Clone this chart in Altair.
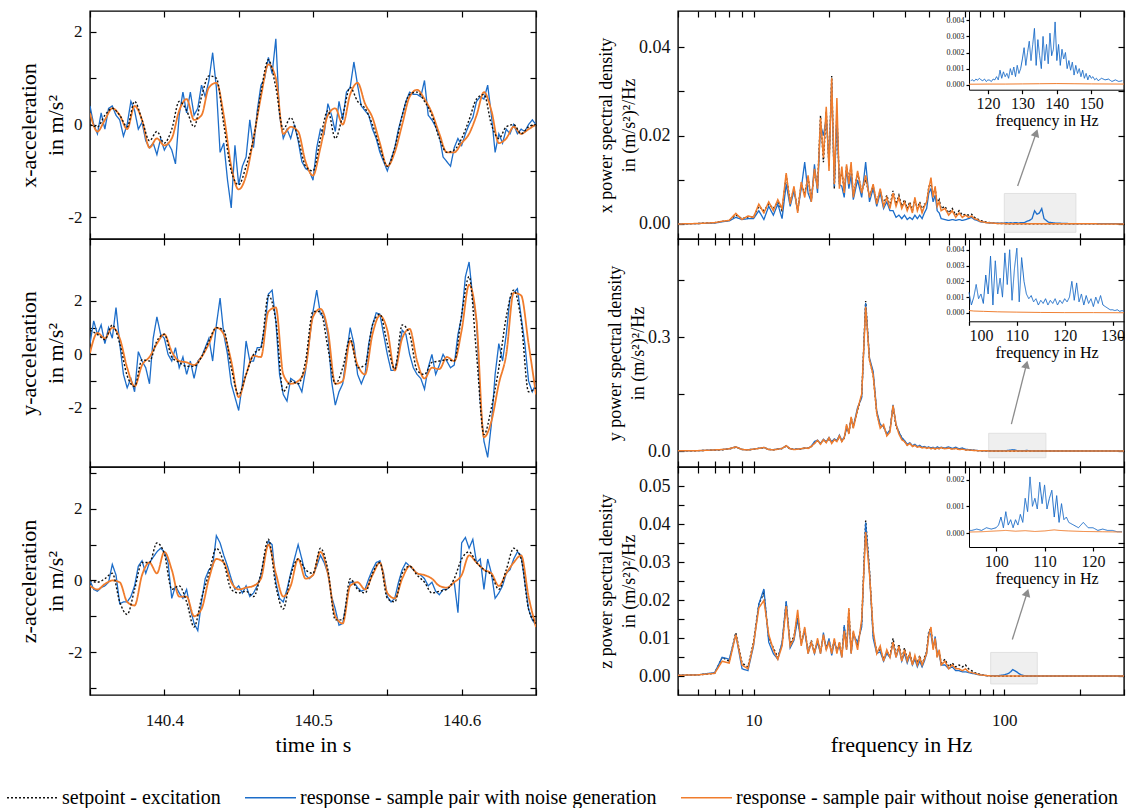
import math
import altair as alt
import pandas as pd

FONT = "Liberation Serif"
S_SET = "setpoint - excitation"
S_NOI = "response - sample pair with noise generation"
S_NON = "response - sample pair without noise generation"
SERIES = [S_SET, S_NOI, S_NON]
COLORS = ["#111111", "#1c6dc9", "#f07c2c"]
DASHES = [[2, 2], [1, 0], [1, 0]]

# ---------------- time domain (t starts at 140.35 s) ----------------
T_START = 140.35
STEP_NOISE = 0.0025
STEP_SMOOTH = 0.005

X_SET = [0.0, -0.05, 0.2, 0.35, 0.2, -0.05, 0.5, 0.1, -0.35, -0.15,
         -0.4, -0.1, 0.5, 0.3, -0.05, 0.6, 1.05, 1.0, 0.0, -1.0,
         -1.3, -0.9, -0.3, 0.7, 1.4, 0.8, -0.1, 0.15, -0.3, -0.9,
         -1.0, -0.3, 0.3, -0.3, 0.2, 0.8, 0.5, 0.35, 0.0, -0.5,
         -0.9, -0.5, 0.2, 0.65, 0.7, 0.5, 0.2, -0.3, -0.6, -0.55,
         -0.3, 0.1, 0.55, 0.65, 0.0, -0.3, -0.05, 0.0, -0.2, -0.05,
         0.0]
X_NON = [0.25, -0.15, 0.1, 0.35, 0.2, -0.1, 0.4, 0.1, -0.5, -0.3,
         -0.45, -0.3, 0.3, 0.55, 0.1, 0.2, 0.8, 0.9, 0.2, -0.9,
         -1.4, -1.1, -0.3, 0.6, 1.3, 1.0, -0.2, -0.05, -0.15, -0.8,
         -1.1, -0.5, 0.2, 0.35, 0.0, 0.65, 0.9, 0.45, 0.15, -0.4,
         -0.9, -0.6, 0.0, 0.6, 0.75, 0.55, 0.25, -0.2, -0.6, -0.6,
         -0.4, -0.2, 0.2, 0.7, 0.3, -0.4, -0.3, -0.05, -0.2, -0.1,
         0.0]
X_NOI = [0.4, 0.0, -0.2, 0.25, -0.1, 0.35, 0.4, 0.2, 0.1, -0.25,
         0.0, 0.5, 0.3, -0.1, 0.05, -0.35, -0.5, -0.4, -0.65, -0.3,
         -0.55, -0.4, -0.55, -0.85, 0.2, 0.7, 0.25, 0.7, 0.2, 0.35,
         0.85, 0.6, 0.95, 1.55, 0.8, -0.6, -0.4, -1.2, -1.8, -0.45,
         -1.3, -0.9, -0.7, 0.1, -0.5, 0.3, 0.85, 1.0, 1.45, 1.1,
         1.85, 0.2, -0.3, -0.1, -0.3, 0.0, -0.35, -0.8, -0.95, -1.0,
         -1.2, -0.5, -0.1, -0.2, 0.45, 0.2, -0.15, 0.5, 0.1, 0.7,
         0.8, 1.35, 0.85, 0.4, 0.3, 0.2, -0.1, -0.3, -0.6, -0.8,
         -1.0, -0.75, -0.5, -0.1, 0.2, 0.5, 0.7, 0.65, 0.65, 0.6,
         0.95, 0.2, 0.1, -0.05, -0.25, -0.7, -0.8, -0.9, -0.5, -0.3,
         -0.45, -0.2, 0.0, 0.15, 0.5, 0.6, 0.55, 0.85, 0.2, -0.6,
         -0.2, -0.4, -0.1, -0.2, 0.0, -0.2, -0.1, -0.15, 0.0, 0.1,
         0.0]

Y_SET = [0.9, 0.75, 0.55, 1.1, 0.4, -0.8, -1.2, -0.2, -0.25, 0.5,
         0.75, -0.1, -0.3, -0.45, -0.45, -0.1, 0.5, 1.0, 0.9, -0.5,
         -1.5, -0.75, 0.0, 0.25, 2.2, 1.25, -1.4, -1.0, -1.1, -0.25,
         1.6, 1.6, 0.25, -1.1, -0.5, 0.6, -0.5, -0.4, 1.1, 1.5,
         0.4, -0.55, 1.1, 0.75, -0.6, -0.75, -0.3, -0.25, -0.2, -0.25,
         1.5, 2.9, 0.0, -3.0, -2.0, -0.5, 1.4, 2.4, 1.25, -1.4,
         -1.25]
Y_NON = [0.05, 0.8, 0.6, 1.0, 0.6, -0.5, -1.2, -0.4, -0.1, 0.4,
         0.75, 0.1, -0.25, -0.3, -0.4, -0.1, 0.4, 1.0, 0.75, -0.25,
         -1.6, -0.75, -0.05, -0.1, 1.6, 1.75, -0.75, -1.1, -1.0, -0.5,
         1.4, 1.7, 0.9, -1.1, -1.0, 0.5, -0.4, -0.75, 0.75, 1.45,
         0.9, -0.6, 0.6, 0.95, -0.25, -0.9, -0.5, -0.55, -0.1, -0.25,
         0.9, 2.6, 1.25, -3.1, -2.5, -1.1, 0.0, 2.3, 2.2, 0.4,
         -1.5]
Y_NOI = [0.4, 1.25, 0.75, 1.1, 0.4, 1.0, 0.6, 1.75, 0.4, -0.75,
         -1.25, -0.9, -1.4, 0.1, -0.25, -0.5, -1.1, 0.6, 1.4, 0.75,
         0.6, 0.0, -0.25, 0.25, -0.5, -0.1, -0.75, -0.25, -0.9, -0.25,
         -0.1, 0.25, 0.6, -0.25, 1.1, 2.1, 0.75, 0.0, -1.1, -1.6,
         -2.1, -1.1, 0.5, -0.25, -0.25, 0.25, 0.25, 1.0, 2.25, 2.4,
         1.25, -0.75, -1.5, -1.75, -0.9, -1.0, -1.1, -1.4, -0.6, 0.5,
         1.6, 2.4, 1.5, 1.4, 0.75, -1.0, -1.9, -1.4, -1.1, 0.0,
         1.0, 0.4, -0.75, -1.1, -0.75, 0.4, 1.1, 1.55, 1.5, 0.75,
         0.0, -0.6, -0.6, 0.0, 0.9, 0.75, 0.0, -0.5, -0.75, -0.9,
         -1.3, -0.5, 0.0, -0.75, -0.4, 0.0, -0.25, -0.5, -0.4, 0.75,
         1.4, 2.9, 3.45, 2.1, 1.25, -1.75, -3.25, -3.85, -2.6, -0.75,
         0.4, -0.25, 0.75, 2.1, 2.3, 2.45, 1.4, 0.4, -1.0, -1.4,
         -1.1]

Z_SET = [0.0, -0.05, 0.05, 0.2, -0.6, -0.95, -0.25, 0.5, 0.5, 1.05,
         0.75, -0.25, -0.15, -0.6, -1.3, -0.5, 0.2, 0.9, 0.5, -0.25,
         -0.35, -0.3, -0.45, 0.2, 1.15, -0.15, -0.8, 0.15, 0.6, 0.3,
         0.2, 0.9, 0.3, -1.1, -1.1, 0.05, -0.25, -0.35, 0.2, 0.5,
         -0.5, -0.6, 0.2, 0.4, 0.15, -0.05, -0.35, -0.3, -0.25, 0.05,
         0.6, 0.8, 0.5, 0.3, 0.15, -0.25, 0.3, 0.9, 0.6, -0.8,
         -1.2]
Z_NON = [-0.15, -0.25, -0.1, 0.0, -0.05, -0.6, -0.7, 0.15, 0.5, 0.2,
         0.8, 0.3, -0.45, -0.45, -1.0, -0.8, 0.05, 0.6, 0.5, -0.05,
         -0.25, -0.2, -0.15, 0.05, 1.0, 0.2, -0.45, -0.15, 0.6, 0.05,
         0.15, 0.8, 0.2, -1.0, -1.2, -0.15, -0.05, -0.25, 0.15, 0.5,
         -0.35, -0.5, 0.05, 0.4, 0.2, 0.15, 0.05, -0.15, -0.2, -0.05,
         0.15, 0.7, 0.5, 0.3, 0.2, -0.15, 0.2, 0.5, 0.7, -0.45,
         -1.3]
Z_NOI = [0.0, -0.25, -0.3, -0.2, -0.15, -0.05, 0.45, 0.15, -0.65, -0.6,
         -0.6, -0.45, -0.15, 0.4, 0.55, 0.2, 0.5, 0.65, 0.8, 0.9,
         0.8, 0.5, -0.5, -0.15, -0.35, -0.5, -0.25, -0.8, -1.2, -1.4,
         -0.6, 0.05, 0.3, 0.4, 1.25, 1.05, 0.7, 0.4, 0.05, -0.25,
         -0.15, -0.35, -0.15, -0.45, -0.35, -0.15, 0.15, 0.7, 1.1, 1.0,
         -0.05, -0.5, -0.6, -0.25, 0.2, 0.6, 1.0, 0.6, 0.15, 0.05,
         0.15, 0.4, 0.7, 0.5, 0.2, -0.45, -0.8, -1.25, -1.2, -0.6,
         -0.05, -0.05, -0.2, -0.3, -0.25, 0.05, 0.3, 0.5, 0.55, 0.2,
         -0.45, -0.6, -0.5, -0.05, 0.3, 0.5, 0.4, 0.3, 0.2, 0.15,
         0.05, -0.15, -0.05, -0.3, -0.4, -0.25, -0.25, -0.15, -0.05, -0.9,
         1.05, 1.2, 0.9, 1.15, 0.5, 0.6, -0.25, 0.6, 0.2, -0.5,
         -0.35, -0.15, 0.2, 0.3, 0.6, 0.8, 0.7, -0.05, -0.8, -1.1,
         -1.25]

# ---------------- power spectral densities ----------------
PSD_F = [5, 6, 7,
         7.5, 8, 8.5, 9, 9.5, 10, 10.5, 11, 11.5, 12,
         12.5, 13, 13.5, 14, 14.5, 15, 15.5, 16, 16.5, 17,
         17.5, 18, 18.5, 19, 19.5, 20, 20.5, 21, 21.5, 22,
         22.5, 23, 23.5, 24, 24.5, 25,
         26, 27, 28, 29, 30, 31, 32, 33, 34, 35,
         36, 37, 38, 39, 40, 41, 42, 43, 44, 45,
         46, 47, 48, 49, 50, 51, 52, 53, 54, 55,
         56,
         58, 60, 62, 64, 66, 68, 70, 72, 74, 76, 78, 80,
         85, 90, 95, 100,
         102, 104, 106, 108, 110, 112, 114, 116, 118, 120,
         123, 126, 129, 132, 135, 138, 141, 144, 147, 150,
         160, 180, 200, 250, 300]

PX_SET = [0.0, 0.0001, 0.0003,
          0.0006, 0.0008, 0.0020, 0.0012, 0.0016, 0.0016, 0.0040, 0.0030, 0.0045, 0.0035,
          0.0050, 0.0030, 0.0110, 0.0050, 0.0080, 0.0030, 0.0090, 0.0070, 0.0105, 0.0055,
          0.0120, 0.0085, 0.0245, 0.0140, 0.0255, 0.0130, 0.0335, 0.0080, 0.0250, 0.0090,
          0.0120, 0.0075, 0.0130, 0.0100, 0.0130, 0.0065,
          0.0115, 0.0075, 0.0100, 0.0065, 0.0085, 0.0050, 0.0075, 0.0045, 0.0065, 0.0040,
          0.0075, 0.0045, 0.0065, 0.0040, 0.0055, 0.0035, 0.0050, 0.0030, 0.0055, 0.0035,
          0.0050, 0.0030, 0.0045, 0.0045, 0.0085, 0.0090, 0.0070, 0.0080, 0.0045, 0.0055,
          0.0035,
          0.0040, 0.0025, 0.0035, 0.0020, 0.0030, 0.0020, 0.0022, 0.0020, 0.0022, 0.0015, 0.0012, 0.0008,
          0.0004, 0.0002, 0.0001, 0.0001,
          0.00005, 0.00005, 0.00005, 0.00005, 0.00005, 0.00005, 0.00005, 0.00005, 0.00005, 0.00005,
          0.00005, 0.00005, 0.00005, 0.00005, 0.00005, 0.00005, 0.00005, 0.00005, 0.00005, 0.00005,
          0.00005, 0.00004, 0.00003, 0.00002, 0.00002]
PX_NON = [0.0, 0.0001, 0.0003,
          0.0006, 0.0008, 0.0024, 0.0010, 0.0018, 0.0015, 0.0045, 0.0025, 0.0050, 0.0030,
          0.0055, 0.0035, 0.0115, 0.0045, 0.0085, 0.0025, 0.0095, 0.0060, 0.0110, 0.0050,
          0.0125, 0.0080, 0.0240, 0.0150, 0.0265, 0.0120, 0.0330, 0.0090, 0.0285, 0.0080,
          0.0130, 0.0070, 0.0135, 0.0090, 0.0140, 0.0060,
          0.0120, 0.0070, 0.0110, 0.0060, 0.0090, 0.0045, 0.0080, 0.0040, 0.0060, 0.0035,
          0.0070, 0.0040, 0.0060, 0.0035, 0.0050, 0.0030, 0.0045, 0.0025, 0.0060, 0.0030,
          0.0045, 0.0025, 0.0040, 0.0050, 0.0080, 0.0105, 0.0060, 0.0085, 0.0040, 0.0050,
          0.0030,
          0.0035, 0.0020, 0.0030, 0.0015, 0.0025, 0.0015, 0.0020, 0.0015, 0.0018, 0.0012, 0.0010, 0.0006,
          0.0003, 0.0002, 0.0001, 0.0001,
          0.00005, 0.00005, 0.00005, 0.00005, 0.00005, 0.00005, 0.00005, 0.00005, 0.00005, 0.00005,
          0.00005, 0.00005, 0.00005, 0.00005, 0.00005, 0.00005, 0.00005, 0.00005, 0.00005, 0.00005,
          0.00005, 0.00004, 0.00003, 0.00002, 0.00002]
PX_NOI = [0.0, 0.0001, 0.0002,
          0.0005, 0.0007, 0.0015, 0.0010, 0.0012, 0.0012, 0.0030, 0.0010, 0.0040, 0.0020,
          0.0045, 0.0012, 0.0090, 0.0040, 0.0075, 0.0030, 0.0080, 0.0140, 0.0070, 0.0050,
          0.0135, 0.0070, 0.0225, 0.0200, 0.0240, 0.0140, 0.0320, 0.0085, 0.0240, 0.0090,
          0.0085, 0.0060, 0.0125, 0.0080, 0.0110, 0.0055,
          0.0100, 0.0060, 0.0140, 0.0050, 0.0080, 0.0040, 0.0070, 0.0035, 0.0050, 0.0030,
          0.0030, 0.0015, 0.0020, 0.0012, 0.0020, 0.0010, 0.0015, 0.0010, 0.0020, 0.0012,
          0.0020, 0.0012, 0.0025, 0.0035, 0.0070, 0.0080, 0.0050, 0.0065, 0.0030, 0.0025,
          0.0012,
          0.0010, 0.0008, 0.0010, 0.0008, 0.0010, 0.0008, 0.0010, 0.0012, 0.0015, 0.0010, 0.0008, 0.0005,
          0.0003, 0.0002, 0.0002, 0.0002,
          0.0003, 0.0002, 0.0003, 0.0002, 0.0003, 0.0003, 0.0002, 0.0003, 0.0003, 0.0003,
          0.0006, 0.0008, 0.0012, 0.0030, 0.0022, 0.0025, 0.0035, 0.0012, 0.0008, 0.0004,
          0.0002, 0.0001, 0.0001, 0.0001, 0.0001]

PY_SET = [0.0005, 0.0010, 0.0025,
          0.0035, 0.0055, 0.0100, 0.0045, 0.0030, 0.0045, 0.0070, 0.0090, 0.0045, 0.0035,
          0.0050, 0.0065, 0.0130, 0.0055, 0.0045, 0.0050, 0.0055, 0.0075, 0.0075, 0.0120,
          0.0210, 0.0270, 0.0190, 0.0290, 0.0230, 0.0330, 0.0220, 0.0310, 0.0260, 0.0380,
          0.0260, 0.0340, 0.0650, 0.0480, 0.0880, 0.0620,
          0.1080, 0.1450, 0.3950, 0.2400, 0.2000, 0.1000, 0.0650, 0.0650, 0.0420, 0.0550,
          0.1180, 0.0650, 0.0500, 0.0350, 0.0260, 0.0160, 0.0210, 0.0130, 0.0160, 0.0110,
          0.0130, 0.0090, 0.0110, 0.0080, 0.0095, 0.0065, 0.0085, 0.0060, 0.0080, 0.0065,
          0.0085,
          0.0065, 0.0085, 0.0055, 0.0075, 0.0045, 0.0055, 0.0035, 0.0030, 0.0025, 0.0018, 0.0012, 0.0010,
          0.0005, 0.0003, 0.0002, 0.0002,
          0.0001, 0.0001, 0.0001, 0.0001, 0.0001, 0.0001, 0.0001, 0.0001, 0.0001, 0.0001,
          0.0001, 0.0001, 0.0001, 0.0001, 0.0001, 0.0001, 0.0001, 0.0001, 0.0001, 0.0001,
          0.0001, 0.0001, 0.0001, 0.0001, 0.0001]
PY_NON = [0.0005, 0.0010, 0.0030,
          0.0040, 0.0060, 0.0110, 0.0040, 0.0030, 0.0050, 0.0070, 0.0095, 0.0040, 0.0030,
          0.0050, 0.0070, 0.0140, 0.0060, 0.0040, 0.0050, 0.0060, 0.0080, 0.0070, 0.0120,
          0.0200, 0.0280, 0.0180, 0.0300, 0.0220, 0.0350, 0.0200, 0.0300, 0.0250, 0.0400,
          0.0250, 0.0350, 0.0700, 0.0450, 0.0900, 0.0600,
          0.1100, 0.1500, 0.3800, 0.2400, 0.2000, 0.1000, 0.0600, 0.0700, 0.0400, 0.0500,
          0.1200, 0.0700, 0.0450, 0.0300, 0.0250, 0.0150, 0.0200, 0.0120, 0.0150, 0.0100,
          0.0120, 0.0080, 0.0100, 0.0070, 0.0090, 0.0060, 0.0080, 0.0050, 0.0080, 0.0060,
          0.0090,
          0.0060, 0.0080, 0.0050, 0.0070, 0.0040, 0.0050, 0.0030, 0.0030, 0.0020, 0.0015, 0.0010, 0.0008,
          0.0005, 0.0003, 0.0002, 0.0002,
          0.0001, 0.0001, 0.0001, 0.0001, 0.0001, 0.0001, 0.0001, 0.0001, 0.0001, 0.0001,
          0.0001, 0.0001, 0.0001, 0.0001, 0.0001, 0.0001, 0.0001, 0.0001, 0.0001, 0.0001,
          0.0001, 0.0001, 0.0001, 0.0001, 0.0001]
PY_NOI = [0.0005, 0.0010, 0.0030,
          0.0040, 0.0060, 0.0110, 0.0040, 0.0035, 0.0050, 0.0075, 0.0095, 0.0040, 0.0035,
          0.0055, 0.0070, 0.0140, 0.0060, 0.0045, 0.0055, 0.0060, 0.0080, 0.0070, 0.0130,
          0.0250, 0.0290, 0.0200, 0.0310, 0.0250, 0.0360, 0.0240, 0.0320, 0.0280, 0.0420,
          0.0280, 0.0360, 0.0600, 0.0500, 0.0850, 0.0650,
          0.1150, 0.1400, 0.3900, 0.2450, 0.2100, 0.1050, 0.0700, 0.0650, 0.0450, 0.0550,
          0.1220, 0.0700, 0.0500, 0.0350, 0.0280, 0.0180, 0.0220, 0.0140, 0.0180, 0.0120,
          0.0150, 0.0100, 0.0120, 0.0090, 0.0110, 0.0080, 0.0100, 0.0070, 0.0110, 0.0080,
          0.0100,
          0.0080, 0.0110, 0.0070, 0.0100, 0.0060, 0.0080, 0.0050, 0.0040, 0.0030, 0.0020, 0.0015, 0.0010,
          0.0006, 0.0004, 0.0003, 0.0008,
          0.0012, 0.0020, 0.0025, 0.0035, 0.0030, 0.0015, 0.0008, 0.0007, 0.0007, 0.0008,
          0.0018, 0.0008, 0.0004, 0.0002, 0.0002, 0.0001, 0.0001, 0.0001, 0.0001, 0.0001,
          0.0001, 0.0001, 0.0001, 0.0001, 0.0001]

PZ_SET = [0.0003, 0.0004, 0.0008,
          0.0050, 0.0040, 0.0115, 0.0035, 0.0025, 0.0090, 0.0190, 0.0220, 0.0100, 0.0075,
          0.0050, 0.0085, 0.0195, 0.0085, 0.0105, 0.0160, 0.0090, 0.0125, 0.0065, 0.0095,
          0.0065, 0.0095, 0.0065, 0.0105, 0.0075, 0.0095, 0.0065, 0.0095, 0.0065, 0.0090,
          0.0055, 0.0130, 0.0075, 0.0175, 0.0065, 0.0115,
          0.0080, 0.0140, 0.0410, 0.0280, 0.0110, 0.0065, 0.0070, 0.0045, 0.0065, 0.0055,
          0.0100, 0.0055, 0.0085, 0.0045, 0.0075, 0.0045, 0.0060, 0.0035, 0.0050, 0.0035,
          0.0055, 0.0030, 0.0050, 0.0065, 0.0120, 0.0125, 0.0080, 0.0095, 0.0055, 0.0065,
          0.0035,
          0.0045, 0.0025, 0.0035, 0.0025, 0.0030, 0.0025, 0.0030, 0.0020, 0.0015, 0.0010, 0.0008, 0.0005,
          0.0002, 0.0001, 0.0001, 0.0001,
          0.00008, 0.00008, 0.00008, 0.00008, 0.00008, 0.00008, 0.00008, 0.00008, 0.00008, 0.00008,
          0.00008, 0.00008, 0.00008, 0.00008, 0.00008, 0.00008, 0.00008, 0.00008, 0.00008, 0.00008,
          0.00008, 0.00008, 0.00008, 0.00008, 0.00008]
PZ_NON = [0.0003, 0.0004, 0.0008,
          0.0040, 0.0035, 0.0110, 0.0030, 0.0020, 0.0085, 0.0180, 0.0200, 0.0110, 0.0070,
          0.0045, 0.0080, 0.0185, 0.0080, 0.0100, 0.0175, 0.0080, 0.0130, 0.0060, 0.0090,
          0.0060, 0.0100, 0.0060, 0.0110, 0.0070, 0.0090, 0.0060, 0.0100, 0.0060, 0.0090,
          0.0050, 0.0120, 0.0070, 0.0180, 0.0060, 0.0120,
          0.0070, 0.0150, 0.0380, 0.0270, 0.0120, 0.0060, 0.0080, 0.0040, 0.0070, 0.0050,
          0.0090, 0.0050, 0.0080, 0.0040, 0.0070, 0.0040, 0.0060, 0.0030, 0.0055, 0.0030,
          0.0050, 0.0030, 0.0045, 0.0060, 0.0110, 0.0130, 0.0070, 0.0100, 0.0050, 0.0070,
          0.0030,
          0.0040, 0.0020, 0.0030, 0.0020, 0.0020, 0.0015, 0.0020, 0.0012, 0.0010, 0.0008, 0.0006, 0.0004,
          0.0002, 0.0001, 0.0001, 0.0001,
          0.00008, 0.00008, 0.00008, 0.00008, 0.00008, 0.00008, 0.00008, 0.00008, 0.00008, 0.00008,
          0.00008, 0.00008, 0.00008, 0.00008, 0.00008, 0.00008, 0.00008, 0.00008, 0.00008, 0.00008,
          0.00008, 0.00008, 0.00008, 0.00008, 0.00008]
PZ_NOI = [0.0003, 0.0004, 0.0010,
          0.0050, 0.0045, 0.0110, 0.0020, 0.0015, 0.0080, 0.0190, 0.0230, 0.0090, 0.0060,
          0.0045, 0.0090, 0.0198, 0.0075, 0.0095, 0.0150, 0.0085, 0.0120, 0.0060, 0.0090,
          0.0060, 0.0090, 0.0060, 0.0115, 0.0070, 0.0100, 0.0055, 0.0090, 0.0070, 0.0080,
          0.0050, 0.0135, 0.0070, 0.0160, 0.0060, 0.0110,
          0.0090, 0.0130, 0.0405, 0.0275, 0.0100, 0.0060, 0.0065, 0.0040, 0.0060, 0.0050,
          0.0090, 0.0050, 0.0075, 0.0040, 0.0060, 0.0035, 0.0055, 0.0030, 0.0045, 0.0025,
          0.0040, 0.0025, 0.0040, 0.0060, 0.0115, 0.0110, 0.0075, 0.0105, 0.0060, 0.0060,
          0.0030,
          0.0030, 0.0020, 0.0025, 0.0015, 0.0015, 0.0012, 0.0012, 0.0010, 0.0008, 0.0007, 0.0005, 0.0004,
          0.0002, 0.0002, 0.0002, 0.0004,
          0.0006, 0.0008, 0.0012, 0.0018, 0.0015, 0.0012, 0.0008, 0.0005, 0.0003, 0.0002,
          0.0001, 0.0001, 0.0001, 0.0001, 0.0001, 0.0001, 0.0001, 0.0001, 0.0001, 0.0001,
          0.0001, 0.0001, 0.0001, 0.0001, 0.0001]

# ---------------- insets ----------------
I1_F = [115, 115.5, 116, 116.5, 117, 117.5, 118, 118.5, 119, 119.5,
        120, 120.5, 121, 121.5, 122, 122.5, 123, 123.5, 124, 124.5,
        125, 125.5, 126, 126.5, 127, 127.5, 128, 128.5, 129, 129.5,
        130, 130.5, 131, 131.5, 132, 132.5, 133, 133.5, 134, 134.5,
        135, 135.5, 136, 136.5, 137, 137.5, 138, 138.5, 139, 139.5,
        140, 140.5, 141, 141.5, 142, 142.5, 143, 143.5, 144, 144.5,
        145, 145.5, 146, 146.5, 147, 147.5, 148, 148.5, 149, 149.5,
        150, 150.5, 151, 151.5, 152, 153, 154, 155, 156, 157, 158, 159]
I1_NOI = [0.00025, 0.0003, 0.00022, 0.00035, 0.00028, 0.0004, 0.0003, 0.00025, 0.00035, 0.0002,
          0.0003, 0.00028, 0.0002, 0.00035, 0.0003, 0.0005, 0.0003, 0.0009, 0.0004, 0.0008,
          0.0005, 0.0007, 0.0004, 0.001, 0.0006, 0.0011, 0.0005, 0.0012, 0.0007, 0.001,
          0.0016, 0.0023, 0.0012, 0.002, 0.0027, 0.0015, 0.0025, 0.0035, 0.0012, 0.0028,
          0.0018, 0.001, 0.003, 0.0015, 0.0025, 0.0013, 0.0032, 0.0018, 0.0022, 0.0039,
          0.0015, 0.0025, 0.0012, 0.0022, 0.0016, 0.002, 0.001, 0.0015, 0.0009, 0.0014,
          0.0006, 0.0012, 0.0007, 0.001, 0.0005, 0.0009, 0.0004, 0.0007, 0.0003, 0.0006,
          0.0004, 0.0005, 0.0003, 0.0004, 0.00025, 0.0004, 0.0003, 0.00035, 0.0002, 0.0003, 0.0002, 0.00025]
I1_NON_F = [114.5, 120, 125, 130, 135, 140, 145, 150, 159.5]
I1_NON = [0.00003, 0.00004, 0.00004, 0.00005, 0.00006, 0.00007, 0.00006, 0.00005, 0.00004]

I2_F = [100, 100.5, 101, 101.5, 102, 102.5, 103, 103.5, 104, 104.5,
        105, 105.5, 106, 106.5, 107, 107.5, 108, 108.5, 109, 109.5,
        110, 110.5, 111, 111.5, 112, 112.5, 113, 113.5, 114, 114.5,
        115, 115.5, 116, 116.5, 117, 117.5, 118, 118.5, 119, 119.5,
        120, 120.5, 121, 121.5, 122, 122.5, 123, 123.5, 124, 124.5,
        125, 125.5, 126, 126.5, 127, 127.5, 128, 128.5, 129, 129.5,
        130, 130.5, 131, 131.5, 132, 132.4]
I2_NOI = [0.0013, 0.0005, 0.0010, 0.0018, 0.0009, 0.0012, 0.0006, 0.0024, 0.0012, 0.0036,
          0.0005, 0.0033, 0.0012, 0.0022, 0.0010, 0.0038, 0.0018, 0.0040, 0.0008, 0.0028,
          0.0041, 0.0007, 0.0035, 0.0020, 0.0012, 0.0009, 0.0011, 0.0007, 0.0009, 0.0005,
          0.0008, 0.0006, 0.0009, 0.0005, 0.0008, 0.0006, 0.0009, 0.0005, 0.0008, 0.0006,
          0.0009, 0.0007, 0.0010, 0.0020, 0.0008, 0.0019, 0.0007, 0.0012, 0.0005, 0.0011,
          0.0006, 0.0009, 0.0004, 0.0010, 0.0006, 0.0011, 0.0005, 0.0004, 0.0003, 0.0002,
          0.0002, 0.00015, 0.0002, 0.0001, 0.00015, 0.0001]
I2_NON_F = [100, 101, 103, 106, 110, 115, 120, 126, 132.4]
I2_NON = [0.00015, 0.00012, 0.0001, 0.00007, 0.00005, 0.00003, 0.00002, 0.00002, 0.00001]

I3_F = [94.5, 95, 96, 97, 98, 99,
        100, 100.5, 101, 101.5, 102, 102.5, 103, 103.5, 104, 104.5,
        105, 105.5, 106, 106.5, 107, 107.5, 108, 108.5, 109, 109.5,
        110, 110.5, 111, 111.5, 112, 112.5, 113, 113.5, 114, 114.5,
        115, 116, 117, 118, 119, 120, 121, 122, 123, 124, 125, 126]
I3_NOI = [0.0001, 0.0001, 0.00015, 0.0001, 0.0002, 0.00015,
          0.0002, 0.0003, 0.0006, 0.0002, 0.0008, 0.0003, 0.0005, 0.0002, 0.0005, 0.0003,
          0.0007, 0.0004, 0.0013, 0.0008, 0.0021, 0.0010, 0.0013, 0.0009, 0.0019, 0.0011,
          0.0018, 0.0009, 0.0013, 0.0016, 0.0006, 0.0014, 0.0004, 0.0011, 0.0005, 0.0006,
          0.0004, 0.0003, 0.0002, 0.0004, 0.0002, 0.0002, 0.0001, 0.00015, 0.0001, 0.0001, 0.00005, 0.00005]
I3_NON_F = [94.5, 97, 100, 102, 104, 106, 108, 110, 112, 113, 115, 118, 122, 126]
I3_NON = [0.00004, 0.00005, 0.00008, 0.0001, 0.00007, 0.00009, 0.00006, 0.00008, 0.00012, 0.0001,
          0.00008, 0.00006, 0.00005, 0.00004]

# ---------------- layout constants ----------------
W, H = 446, 228
T_DOMAIN = [140.35, 140.65]
F_DOMAIN = [5, 300]
TICK = 6
T_TICKS = [140.35, 140.4, 140.45, 140.5, 140.55, 140.6, 140.65]
F_TICKS = [5, 6, 7, 8, 9, 10, 20, 30, 40, 50, 60, 70, 80, 90, 100, 200, 300]

legend = alt.Legend(title=None, orient="none", legendX=-84, legendY=760, direction="horizontal",
                    symbolType="stroke", symbolSize=2600, symbolStrokeWidth=1.6,
                    labelFont=FONT, labelFontSize=20, labelLimit=0, columnPadding=20,
                    labelOffset=3)
COLOR = alt.Color("series:N", scale=alt.Scale(domain=SERIES, range=COLORS), legend=legend)
DASH = alt.StrokeDash("series:N", scale=alt.Scale(domain=SERIES, range=DASHES), legend=legend)


def lab_expr(pairs):
    expr = "''"
    for v, lab in pairs:
        expr = f"abs(datum.value - ({v})) < 1e-9 ? '{lab}' : ({expr})"
    return expr


def frame(xs, vs, name, xcol):
    return pd.DataFrame({xcol: xs, "v": vs, "series": name})


def tgrid(n, step):
    return [round(T_START + i * step, 5) for i in range(n)]


def mirror_layer(xcol, xscale, xticks, yscale, yticks, x0, y0):
    """Invisible layer carrying the inward ticks on the top and right frame edges."""
    df = pd.DataFrame({xcol: [x0], "v": [y0]})
    return alt.Chart(df).mark_point(opacity=0, size=1).encode(
        x=alt.X(f"{xcol}:Q", scale=xscale,
                axis=alt.Axis(orient="top", values=xticks, labels=False, title=None,
                              domain=False, tickSize=TICK, offset=-TICK)),
        y=alt.Y("v:Q", scale=yscale,
                axis=alt.Axis(orient="right", values=yticks, labels=False, title=None,
                              domain=False, tickSize=TICK, offset=-TICK)))


def time_panel(set_v, noi_v, non_v, ydom, yticks, title, last):
    xaxis = alt.Axis(values=T_TICKS,
                     labelExpr=lab_expr([(140.4, "140.4"), (140.5, "140.5"), (140.6, "140.6")]),
                     labels=last, title="time in s" if last else None,
                     labelFontSize=17, titleFontSize=22, labelPadding=17, titlePadding=6,
                     tickSize=TICK, offset=-TICK, domain=False)
    yaxis = alt.Axis(values=yticks,
                     labelExpr=lab_expr([(-2, "-2"), (0, "0"), (2, "2")]),
                     title=title, labelFontSize=17, titleFontSize=22, titleLineHeight=27,
                     titlePadding=0, tickSize=TICK, offset=-TICK, labelPadding=8, domain=False)
    xs = alt.Scale(domain=T_DOMAIN, nice=False, zero=False)
    ys = alt.Scale(domain=ydom, nice=False, zero=False)
    x = alt.X("t:Q", scale=xs, axis=xaxis)
    y = alt.Y("v:Q", scale=ys, axis=yaxis)
    specs = [(noi_v, S_NOI, STEP_NOISE, 1.3, "linear"), (non_v, S_NON, STEP_SMOOTH, 1.8, "monotone"),
             (set_v, S_SET, STEP_SMOOTH, 1.4, "monotone")]
    layers = []
    for vals, name, step, sw, interp in specs:
        df = frame(tgrid(len(vals), step), vals, name, "t")
        layers.append(alt.Chart(df).mark_line(strokeWidth=sw, clip=True, interpolate=interp)
                      .encode(x=x, y=y, color=COLOR, strokeDash=DASH))
    mirror = mirror_layer("t", xs, T_TICKS, ys, yticks, T_DOMAIN[0], 0)
    return alt.layer(alt.layer(*layers), mirror).resolve_scale(
        x="independent", y="independent").properties(width=W, height=H)


def psd_px(f):
    return W * (math.log10(f) - math.log10(F_DOMAIN[0])) / (math.log10(F_DOMAIN[1]) - math.log10(F_DOMAIN[0]))


def psd_panel(set_v, noi_v, non_v, ydom, ytick_vals, ylabels, title, last,
              rect, arrow, ins):
    xaxis = alt.Axis(values=F_TICKS,
                     labelExpr=lab_expr([(10, "10"), (100, "100")]),
                     labels=last, title="frequency in Hz" if last else None,
                     labelFontSize=17, titleFontSize=22, labelPadding=17, titlePadding=6,
                     tickSize=TICK, offset=-TICK, domain=False, orient="bottom")
    yaxis = alt.Axis(values=ytick_vals, labelExpr=lab_expr(ylabels), title=title,
                     labelFontSize=18, titleFontSize=18, titleLineHeight=23,
                     titlePadding=0, tickSize=TICK, offset=-TICK, labelPadding=8,
                     domain=False, orient="left")
    xs = alt.Scale(type="log", domain=F_DOMAIN, nice=False)
    ys = alt.Scale(domain=ydom, nice=False, zero=False)

    rect_df = pd.DataFrame({"f": [rect[0]], "f2": [rect[1]], "v": [rect[2]], "v2": [rect[3]]})
    r = alt.Chart(rect_df).mark_rect(fill="#efefef", stroke="#dcdcdc", strokeWidth=0.8).encode(
        x=alt.X("f:Q", scale=xs, axis=xaxis), x2="f2:Q",
        y=alt.Y("v:Q", scale=ys, axis=yaxis), y2="v2:Q")
    layers = [r]
    for vals, name, sw in [(set_v, S_SET, 1.4), (noi_v, S_NOI, 1.3), (non_v, S_NON, 1.5)]:
        df = frame(PSD_F, vals, name, "f")
        layers.append(alt.Chart(df).mark_line(strokeWidth=sw, clip=True).encode(
            x=alt.X("f:Q", scale=xs, axis=xaxis), y=alt.Y("v:Q", scale=ys, axis=yaxis),
            color=COLOR, strokeDash=DASH))
    arr_df = pd.DataFrame({"f": [arrow[0]], "f2": [arrow[2]], "v": [arrow[1]], "v2": [arrow[3]]})
    layers.append(alt.Chart(arr_df).mark_rule(color="#8c8c8c", strokeWidth=1.3).encode(
        x=alt.X("f:Q", scale=xs, axis=xaxis), x2="f2:Q",
        y=alt.Y("v:Q", scale=ys, axis=yaxis), y2="v2:Q"))
    # arrow head orientation (style only)
    dx = psd_px(arrow[2]) - psd_px(arrow[0])
    dy = -H * (arrow[3] - arrow[1]) / (ydom[1] - ydom[0])
    ang = math.degrees(math.atan2(dx, -dy)) % 360
    head_df = pd.DataFrame({"f": [arrow[2]], "v": [arrow[3]]})
    layers.append(alt.Chart(head_df).mark_point(shape="triangle-up", filled=True, size=80,
                                                color="#8c8c8c", opacity=1, angle=ang).encode(
        x=alt.X("f:Q", scale=xs, axis=xaxis), y=alt.Y("v:Q", scale=ys, axis=yaxis)))
    main = alt.layer(*layers)

    # inset
    (bf, bv, of, ov, ixdom, ixticks, iydom, iyticks, ibottom) = ins
    xr = [291, W]
    yr = [ibottom, 0]
    ix_axis = alt.Axis(orient="bottom", offset=-(H - ibottom), values=ixticks, format="d",
                       title="frequency in Hz", labelFontSize=16, titleFontSize=16,
                       labelPadding=2, titlePadding=1, tickSize=4, domainWidth=1)
    iy_axis = alt.Axis(orient="left", offset=-xr[0], values=iyticks, format=".3f", title=None,
                       labelFontSize=8, tickSize=3, labelPadding=2, domainWidth=1)
    ixs = alt.Scale(domain=ixdom, range=xr, nice=False, zero=False)
    iys = alt.Scale(domain=iydom, range=yr, nice=False, zero=False)
    ib = alt.Chart(frame(bf, bv, S_NOI, "f")).mark_line(strokeWidth=1.0).encode(
        x=alt.X("f:Q", scale=ixs, axis=ix_axis), y=alt.Y("v:Q", scale=iys, axis=iy_axis),
        color=COLOR, strokeDash=DASH)
    io = alt.Chart(frame(of, ov, S_NON, "f")).mark_line(strokeWidth=1.0).encode(
        x=alt.X("f:Q", scale=ixs, axis=ix_axis), y=alt.Y("v:Q", scale=iys, axis=iy_axis),
        color=COLOR, strokeDash=DASH)
    inset = alt.layer(ib, io)
    mirror = mirror_layer("f", xs, F_TICKS, ys, ytick_vals, F_DOMAIN[0], 0)
    return alt.layer(main, inset, mirror).resolve_scale(x="independent", y="independent").properties(
        width=W, height=H)


p1 = time_panel(X_SET, X_NOI, X_NON, [-2.47, 2.45], [-2, -1, 0, 1, 2],
                ["x-acceleration", "in m/s²"], False)
p2 = time_panel(Y_SET, Y_NOI, Y_NON, [-4.21, 4.31], [-2, -1, 0, 1, 2],
                ["y-acceleration", "in m/s²"], False)
p3 = time_panel(Z_SET, Z_NOI, Z_NON, [-3.2, 3.17], [-3, -2, -1, 0, 1, 2, 3],
                ["z-acceleration", "in m/s²"], True)

q1 = psd_panel(PX_SET, PX_NOI, PX_NON, [-0.0034, 0.0482], [0, 0.01, 0.02, 0.03, 0.04],
               [(0, "0.00"), (0.02, "0.02"), (0.04, "0.04")],
               ["x power spectral density", "in (m/s²)²/Hz"], False,
               (100, 193, -0.0019, 0.0069), (113, 0.0086, 134, 0.0206),
               (I1_F, I1_NOI, I1_NON_F, I1_NON, [114.5, 159.5], [120, 130, 140, 150],
                [-0.00031, 0.00458], [0, 0.001, 0.002, 0.003, 0.004], 78.7))
q2 = psd_panel(PY_SET, PY_NOI, PY_NON, [-0.042, 0.5585], [0, 0.15, 0.3, 0.45],
               [(0, "0.0"), (0.3, "0.3")],
               ["y power spectral density", "in (m/s²)²/Hz"], False,
               (86.6, 146.5, -0.0176, 0.0468), (106.7, 0.071, 122.5, 0.228),
               (I2_F, I2_NOI, I2_NON_F, I2_NON, [100, 132.4], [100, 110, 120, 130],
                [-0.00053, 0.00468], [0, 0.001, 0.002, 0.003, 0.004], 82.3))
q3 = psd_panel(PZ_SET, PZ_NOI, PZ_NON, [-0.0049, 0.0551],
               [0, 0.005, 0.01, 0.015, 0.02, 0.025, 0.03, 0.035, 0.04, 0.045, 0.05],
               [(0, "0.00"), (0.01, "0.01"), (0.02, "0.02"), (0.03, "0.03"), (0.04, "0.04"), (0.05, "0.05")],
               ["z power spectral density", "in (m/s²)²/Hz"], True,
               (88.2, 135.3, -0.0020, 0.0063), (107.6, 0.0097, 123.3, 0.022),
               (I3_F, I3_NOI, I3_NON_F, I3_NON, [94.4, 126.4], [100, 110, 120],
                [-0.00052, 0.00247], [0, 0.001, 0.002], 80))

chart = alt.concat(p1, q1, p2, q2, p3, q3, columns=2, spacing={"row": 0, "column": 142},
                   bounds="flush").resolve_scale(
    x="independent", y="independent").properties(
    padding={"left": 6, "top": 9, "right": 5, "bottom": 0},
    background="white").configure(font=FONT).configure_view(
    stroke="black", strokeWidth=1.4).configure_axis(
    grid=False, domainColor="black", tickColor="black", labelColor="#111111", titleColor="black",
    labelFont=FONT, titleFont=FONT, titleFontWeight="normal", domainWidth=1.2, tickWidth=1.2)

chart.save("out.html", embed_options={"renderer": "svg", "actions": False})
